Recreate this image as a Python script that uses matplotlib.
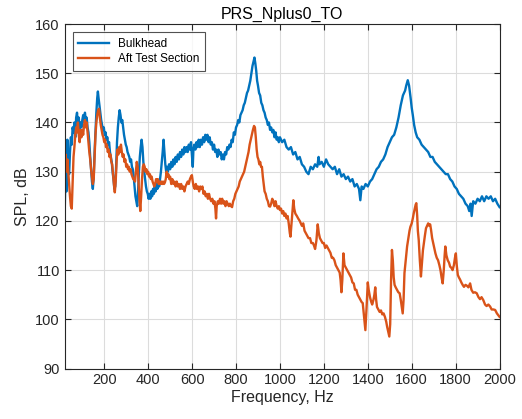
import matplotlib
matplotlib.use("Agg")
import matplotlib.pyplot as plt

# (frequency Hz, SPL dB)
bulkhead = [
    (20, 122), (24, 131), (28, 126), (32, 136.5), (36, 131), (40, 129.5), (44, 134), (48, 137),
    (52, 135.5), (56, 139), (60, 138), (64, 140), (68, 137), (72, 141), (76, 142), (80, 139.5),
    (84, 141), (88, 138.5), (92, 140), (96, 139), (100, 140.5), (104, 141.5), (108, 140), (112, 142),
    (116, 140.5), (120, 141), (124, 139), (128, 138), (132, 136), (136, 133), (140, 130.5), (144, 128),
    (148, 126.5), (152, 129), (156, 134), (160, 138), (164, 142), (168, 145), (171, 146.3), (174, 145),
    (178, 143.5), (182, 142), (186, 140.5), (190, 139.5), (194, 138.5), (198, 139), (202, 137.5),
    (206, 138), (210, 136.5), (214, 137), (218, 135.5), (222, 136), (226, 134), (230, 133), (234, 132),
    (238, 130), (242, 128.5), (246, 126.5), (250, 127), (254, 131), (258, 136), (262, 139), (266, 141),
    (270, 142.5), (274, 141.5), (278, 140), (282, 140.5), (286, 139), (290, 137.5), (294, 136.5),
    (298, 135.5), (302, 135), (306, 134), (310, 133.5), (314, 133), (318, 132), (322, 132.5), (326, 131),
    (330, 130.5), (334, 129), (338, 127), (342, 125), (346, 124), (350, 123), (354, 126), (358, 130),
    (362, 133), (366, 135), (370, 136.5), (374, 135), (378, 132), (382, 130), (386, 128.5), (390, 127),
    (394, 126), (398, 125.5), (402, 124.5), (406, 125.5), (410, 124.5), (414, 126), (418, 125),
    (422, 126.5), (426, 125.5), (430, 127), (434, 126), (438, 127.5), (442, 126.5), (446, 128), (450, 127),
    (454, 128.5), (458, 130), (462, 132), (466, 134), (470, 136.5), (474, 134), (478, 131.5), (482, 130),
    (486, 131), (490, 130), (495, 131.5), (500, 130.5), (505, 132), (510, 131), (515, 132.5), (520, 131.5),
    (525, 133), (530, 132), (535, 133.5), (540, 132.5), (545, 134), (550, 133), (555, 134.5), (560, 133.5),
    (565, 135), (570, 134), (575, 135), (580, 134), (585, 135.5), (590, 134.5), (595, 136), (600, 133),
    (603, 131), (606, 134.5), (610, 135.5), (615, 134.5), (620, 136), (625, 135), (630, 136.5), (635, 135),
    (640, 136.5), (645, 135.5), (650, 137), (655, 136), (660, 137.5), (665, 136.5), (670, 137.5),
    (675, 136), (680, 137), (685, 135.5), (690, 136), (695, 134.5), (700, 135.5), (705, 134), (710, 134.5),
    (715, 133), (720, 134.5), (725, 133.5), (730, 134), (735, 132.5), (740, 133.5), (745, 132.5),
    (750, 134), (755, 133.5), (760, 135), (765, 134.5), (770, 135.5), (775, 135), (780, 136.5), (785, 136),
    (790, 138), (795, 137.5), (800, 139), (805, 139.5), (810, 140.5), (815, 140), (820, 141.5), (825, 142),
    (830, 142.5), (835, 143.5), (840, 144), (845, 145), (850, 146), (855, 146.5), (860, 147.5),
    (865, 148.5), (870, 150), (875, 151.5), (880, 152.5), (884, 153.2), (888, 152), (892, 150.5),
    (896, 148.5), (900, 147.5), (905, 146), (910, 145.5), (915, 144), (920, 143.5), (925, 142.5),
    (930, 142), (935, 141), (940, 140.5), (945, 139.5), (950, 140), (955, 138.5), (960, 139), (965, 138),
    (970, 138.5), (975, 137), (980, 138), (985, 136.5), (990, 137), (995, 136), (1000, 137), (1010, 136),
    (1020, 136.5), (1030, 135), (1040, 134.5), (1050, 135), (1060, 133.5), (1070, 134), (1080, 132.5),
    (1090, 133), (1100, 131.5), (1110, 131), (1120, 130), (1130, 129.5), (1140, 131), (1150, 130.5),
    (1160, 131.5), (1170, 131), (1176, 133), (1180, 131.5), (1190, 132), (1200, 131), (1210, 132.5),
    (1220, 131.5), (1230, 131), (1240, 130.5), (1250, 131), (1260, 129.5), (1270, 130.5), (1280, 129),
    (1290, 129.5), (1300, 128.5), (1310, 129), (1320, 128), (1330, 128.5), (1340, 127), (1350, 127.5),
    (1360, 126.5), (1366, 124.2), (1372, 127), (1380, 126.5), (1390, 127.5), (1400, 127), (1410, 128),
    (1420, 128.5), (1430, 129.5), (1440, 130.5), (1450, 131), (1460, 132), (1470, 132.5), (1480, 133.5),
    (1490, 135), (1500, 136), (1510, 137), (1520, 137.5), (1530, 139), (1540, 141), (1550, 143.5),
    (1560, 145.5), (1570, 146.5), (1575, 147.5), (1582, 148.6), (1588, 147.5), (1595, 145), (1600, 143),
    (1605, 141.5), (1611, 139.5), (1618, 138), (1625, 137), (1635, 136.5), (1645, 135.5), (1655, 135),
    (1665, 134.5), (1675, 134), (1685, 133), (1695, 133), (1705, 132), (1715, 131.5), (1725, 131),
    (1735, 130.5), (1745, 130), (1755, 129.5), (1765, 129.5), (1775, 128.5), (1785, 128), (1795, 127),
    (1805, 126.5), (1815, 125.5), (1825, 125), (1835, 124.5), (1845, 123.5), (1855, 123), (1862, 122),
    (1868, 123.5), (1873, 121), (1880, 124), (1890, 123.5), (1900, 124.5), (1910, 124), (1920, 125),
    (1930, 124), (1940, 125), (1950, 124.5), (1960, 125), (1970, 124), (1980, 124.5), (1990, 123.5),
    (2000, 122.8),
]

aft_section = [
    (20, 131), (24, 133.5), (28, 130), (32, 132.5), (36, 130), (40, 127.5), (44, 125), (48, 123),
    (52, 122.5), (56, 128), (60, 133), (64, 135), (68, 137.5), (72, 139), (76, 138), (80, 140),
    (84, 137.5), (88, 136), (92, 138.5), (96, 137), (100, 138.5), (104, 137.5), (108, 139.5), (112, 140.5),
    (116, 139), (120, 140), (124, 138), (128, 136), (132, 134), (136, 132.5), (140, 130.5), (144, 129),
    (148, 127.5), (152, 128.5), (156, 133), (160, 137.5), (164, 140), (168, 141.5), (172, 142.5),
    (176, 142.8), (180, 141), (184, 139.5), (188, 138.5), (192, 137.5), (196, 137), (200, 136),
    (204, 136.5), (208, 135), (212, 135.5), (216, 134), (220, 134.5), (224, 133), (228, 133.5), (232, 132),
    (236, 131.5), (240, 129.5), (244, 127.5), (248, 125.8), (252, 128), (256, 132), (260, 134.5),
    (264, 133.5), (268, 135), (272, 134), (276, 135.5), (280, 134), (284, 133), (288, 133.5), (292, 132),
    (296, 132.5), (300, 131), (304, 131.5), (308, 130.5), (312, 131), (316, 130), (320, 130.5),
    (324, 129.5), (328, 129), (332, 128.5), (336, 128.5), (340, 128), (344, 130), (348, 132), (352, 131),
    (356, 128), (360, 124.5), (364, 122), (368, 125), (372, 128.5), (376, 131), (380, 131.5), (384, 131),
    (388, 130), (392, 130.5), (396, 129.5), (400, 130), (404, 129), (408, 129.5), (412, 128.5), (416, 129),
    (420, 128), (424, 127.5), (428, 127), (432, 127.5), (436, 128.5), (440, 128), (444, 128.5),
    (448, 127.5), (452, 128), (456, 127.5), (460, 128), (464, 127.5), (468, 128), (472, 127.5),
    (476, 127.8), (480, 128.5), (484, 130), (488, 129), (492, 129.5), (496, 128.5), (500, 129),
    (505, 127.5), (510, 128.5), (515, 127.5), (520, 128), (525, 127), (530, 128), (535, 127), (540, 127.5),
    (545, 126.5), (550, 127.5), (555, 126.5), (560, 127), (565, 126), (570, 127), (575, 127.5), (580, 128),
    (585, 127.5), (590, 128.5), (595, 129), (599, 129.3), (603, 128), (607, 127), (612, 126.5),
    (617, 127.5), (622, 126.5), (627, 127), (632, 126), (637, 127), (642, 126.5), (647, 127), (652, 125.5),
    (657, 126), (662, 125), (667, 125.5), (672, 124.5), (677, 125.5), (682, 124.5), (687, 124),
    (692, 124.5), (697, 123.5), (702, 124), (706, 122.5), (709, 120.5), (712, 123), (717, 124),
    (722, 123.5), (727, 124.5), (732, 123.5), (737, 124.5), (742, 123.5), (747, 124), (752, 123),
    (757, 124), (762, 123.5), (767, 123), (772, 123.5), (777, 123), (782, 122.8), (787, 124), (792, 124.5),
    (797, 125.5), (802, 126), (807, 126.5), (812, 127), (817, 128), (822, 128.5), (827, 129), (832, 129.5),
    (837, 130), (842, 131), (847, 132), (852, 133), (857, 134), (862, 135.5), (867, 136.5), (872, 137.5),
    (877, 138.5), (882, 139.3), (886, 139), (890, 137), (894, 134.5), (898, 133), (902, 132.5),
    (906, 131.5), (910, 132), (914, 131), (918, 131), (922, 129), (926, 127.5), (930, 126), (935, 125.5),
    (940, 124.5), (945, 124), (950, 123), (955, 122.9), (960, 123.5), (965, 124.5), (970, 124), (975, 123),
    (980, 124), (985, 123), (990, 122.5), (995, 123), (1000, 122.2), (1005, 122.5), (1010, 121.5),
    (1015, 122), (1020, 121), (1025, 121.5), (1030, 120.5), (1035, 121), (1040, 119.5), (1045, 117.5),
    (1048, 116.8), (1052, 119), (1056, 121), (1061, 124.2), (1065, 122.5), (1070, 121.5), (1077, 121),
    (1083, 120.5), (1090, 120), (1095, 119.5), (1100, 119), (1106, 119.5), (1112, 118), (1118, 117.5),
    (1124, 117), (1130, 116.5), (1137, 116.5), (1143, 115.5), (1150, 115.5), (1155, 115), (1160, 114.3),
    (1166, 116), (1172, 119.3), (1177, 117.5), (1182, 116.5), (1188, 116), (1194, 115.5), (1200, 115.5),
    (1206, 114.5), (1212, 115), (1218, 114.5), (1224, 114), (1230, 113.5), (1236, 112.5), (1242, 112.5),
    (1248, 112), (1254, 111), (1260, 110.5), (1266, 110), (1272, 109.5), (1276, 108), (1280, 105.5),
    (1284, 108), (1289, 113.4), (1294, 111), (1300, 110.5), (1306, 110), (1312, 109.5), (1318, 109),
    (1324, 108.5), (1330, 107.5), (1336, 107.3), (1342, 106), (1348, 106), (1354, 105), (1360, 104.5),
    (1366, 104), (1372, 103.5), (1377, 103.3), (1383, 100.5), (1389, 97.8), (1394, 102), (1400, 107.5),
    (1404, 106), (1410, 104.5), (1416, 103.5), (1420, 103), (1426, 104), (1430, 105), (1434, 106.5),
    (1438, 104), (1442, 102.5), (1448, 102), (1454, 101.5), (1460, 101.8), (1466, 101), (1472, 101.2),
    (1478, 100.5), (1484, 99.5), (1488, 98.5), (1493, 97.5), (1498, 96.5), (1502, 99), (1506, 108),
    (1510, 114.1), (1514, 112), (1518, 108.5), (1522, 107), (1527, 106.5), (1533, 106), (1539, 105.5),
    (1545, 105.3), (1550, 104), (1555, 102.5), (1559, 101.2), (1563, 104), (1567, 109.4), (1573, 112),
    (1579, 114.8), (1585, 116.5), (1590, 118), (1594, 118.8), (1600, 119.5), (1605, 120.5), (1609, 121.5),
    (1614, 122.5), (1618, 123.3), (1621, 123.6), (1625, 121), (1628, 118), (1632, 116.1), (1637, 112),
    (1642, 108.7), (1647, 111.5), (1651, 114), (1655, 115.4), (1660, 117), (1665, 118.5), (1670, 119),
    (1675, 119.5), (1680, 119), (1684, 119.3), (1688, 118.2), (1693, 116.5), (1698, 115.5), (1703, 114.5),
    (1708, 113.4), (1714, 112.5), (1720, 112), (1726, 111), (1731, 110), (1736, 108.5), (1741, 107.3),
    (1746, 110), (1750, 113), (1753, 114.8), (1758, 113), (1764, 112), (1770, 111.5), (1775, 110.7),
    (1780, 110.5), (1786, 110), (1792, 111), (1797, 112.5), (1801, 113.4), (1805, 111), (1810, 109),
    (1815, 108.5), (1820, 108.1), (1826, 107.5), (1832, 107), (1838, 106.6), (1845, 107), (1852, 106.8),
    (1858, 106.5), (1866, 107.3), (1872, 106), (1880, 105.4), (1888, 105.5), (1896, 105.3), (1904, 104.5),
    (1911, 104.1), (1918, 104.5), (1926, 103.9), (1934, 103), (1941, 102.7), (1949, 103), (1957, 102.6),
    (1964, 102), (1972, 102), (1980, 101.9), (1988, 101.2), (1995, 100.8), (2000, 100.5),
]

x_ticks = list(range(200, 2001, 200))
y_ticks = list(range(90, 161, 10))

plt.rcParams['font.family'] = ['Liberation Sans', 'DejaVu Sans']

fig = plt.figure(figsize=(5.22, 4.19), dpi=100)
ax = fig.add_axes([0.124, 0.1205, 0.833, 0.822])

bf, bv = zip(*bulkhead)
af, av = zip(*aft_section)
ax.plot(bf, bv, color='#0072BD', lw=1.7, label='Bulkhead')
ax.plot(af, av, color='#D95319', lw=1.7, label='Aft Test Section')

ax.set_xlim(20, 2000)
ax.set_ylim(90, 160)
ax.set_xticks(x_ticks)
ax.set_yticks(y_ticks)
ax.grid(True, color='#dcdcdc', lw=0.8)
ax.set_axisbelow(True)
ax.tick_params(direction='in', top=True, right=True, labelsize=10.5, colors='#262626', length=4)
for s in ax.spines.values():
    s.set_color('#262626')
    s.set_linewidth(0.8)

ax.set_title('PRS_Nplus0_TO', fontsize=11.5, color='black', pad=4)
ax.set_xlabel('Frequency, Hz', fontsize=11.5, color='#262626', labelpad=2)
ax.set_ylabel('SPL, dB', fontsize=11.5, color='#262626', labelpad=4)

leg = ax.legend(loc='upper left', fontsize=8.5, frameon=True, fancybox=False,
                borderaxespad=0.7, handlelength=2.6, borderpad=0.45, labelspacing=0.3)
leg.get_frame().set_edgecolor('#262626')
leg.get_frame().set_linewidth(0.8)
for line in leg.get_lines():
    line.set_linewidth(1.7)

fig.savefig('out.png', dpi=100)
